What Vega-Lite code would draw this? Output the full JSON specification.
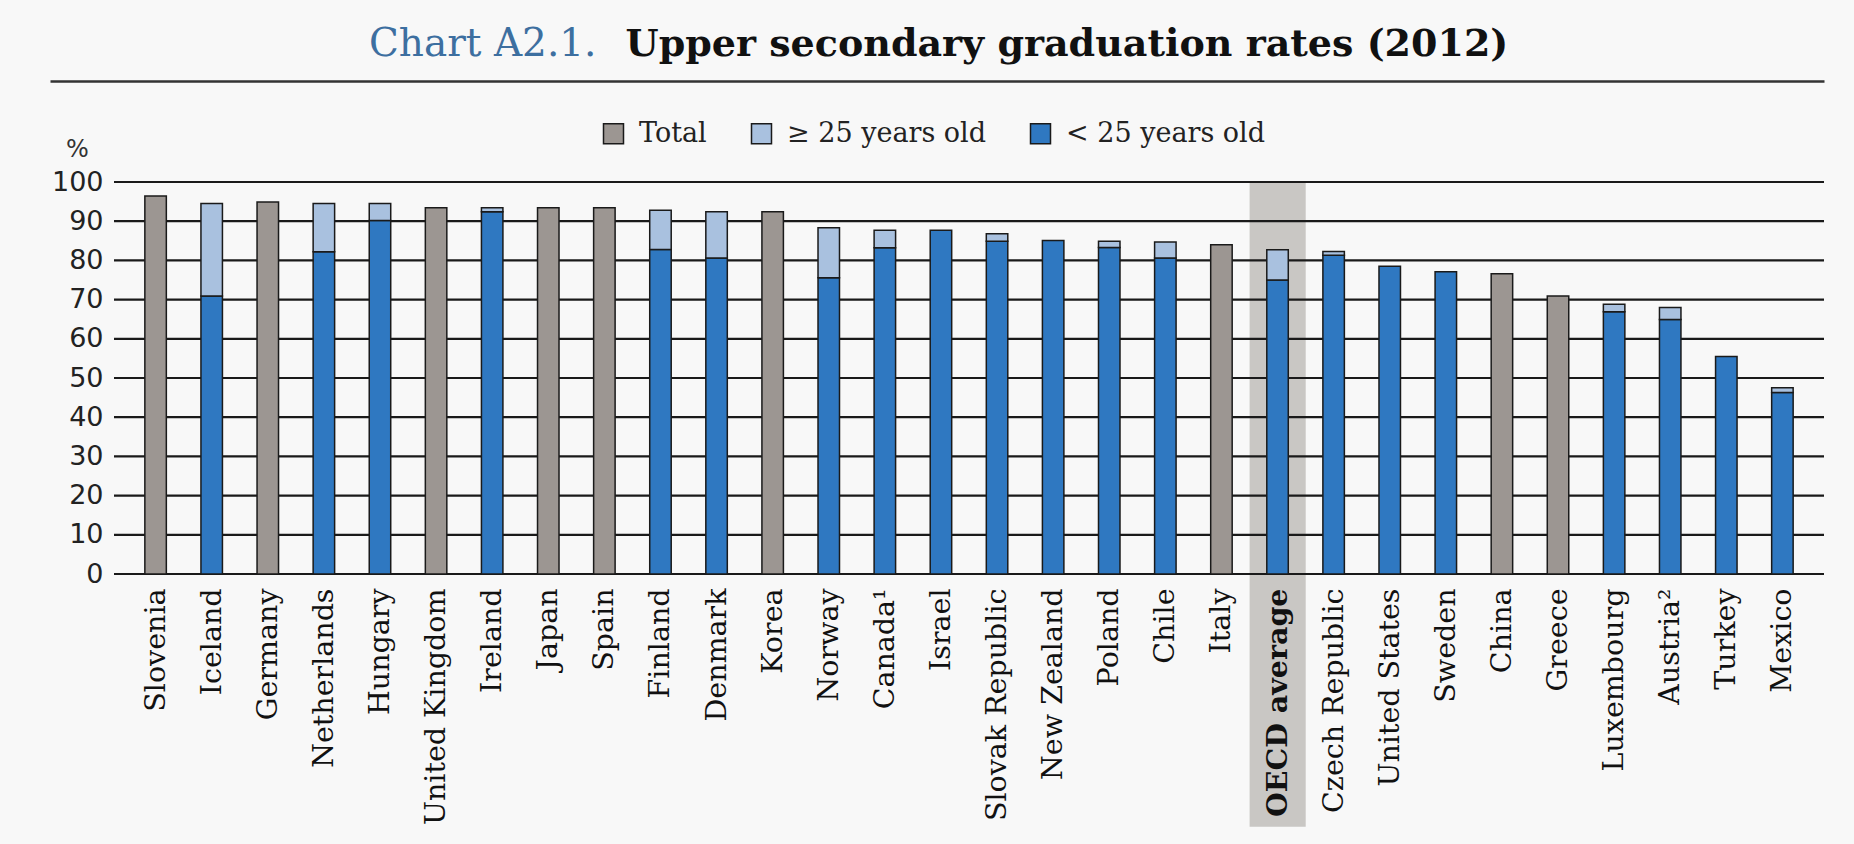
{
  "$schema": "https://vega.github.io/schema/vega-lite/v6.json",
  "width": 1710,
  "height": 392,
  "autosize": "none",
  "padding": {"left": 114, "top": 182, "right": 30, "bottom": 270},
  "background": "#f8f8f8",
  "title": {
    "text": "Chart A2.1.",
    "anchor": "start",
    "frame": "group",
    "dx": 255,
    "dy": 39,
    "offset": 0,
    "color": "#3d6fa0",
    "font": "DejaVu Serif",
    "fontSize": 39,
    "fontWeight": "normal"
  },
  "datasets": {
    "rates": [
      {"country": "Slovenia", "group": "Total", "value": 96.4},
      {"country": "Iceland", "group": "< 25 years old", "value": 70.9},
      {"country": "Iceland", "group": "≥ 25 years old", "value": 23.6},
      {"country": "Germany", "group": "Total", "value": 94.9},
      {"country": "Netherlands", "group": "< 25 years old", "value": 82.2},
      {"country": "Netherlands", "group": "≥ 25 years old", "value": 12.3},
      {"country": "Hungary", "group": "< 25 years old", "value": 90.2},
      {"country": "Hungary", "group": "≥ 25 years old", "value": 4.3},
      {"country": "United Kingdom", "group": "Total", "value": 93.4},
      {"country": "Ireland", "group": "< 25 years old", "value": 92.4},
      {"country": "Ireland", "group": "≥ 25 years old", "value": 1.0},
      {"country": "Japan", "group": "Total", "value": 93.4},
      {"country": "Spain", "group": "Total", "value": 93.4},
      {"country": "Finland", "group": "< 25 years old", "value": 82.8},
      {"country": "Finland", "group": "≥ 25 years old", "value": 10.0},
      {"country": "Denmark", "group": "< 25 years old", "value": 80.6},
      {"country": "Denmark", "group": "≥ 25 years old", "value": 11.8},
      {"country": "Korea", "group": "Total", "value": 92.4},
      {"country": "Norway", "group": "< 25 years old", "value": 75.6},
      {"country": "Norway", "group": "≥ 25 years old", "value": 12.7},
      {"country": "Canada¹", "group": "< 25 years old", "value": 83.2},
      {"country": "Canada¹", "group": "≥ 25 years old", "value": 4.5},
      {"country": "Israel", "group": "< 25 years old", "value": 87.7},
      {"country": "Slovak Republic", "group": "< 25 years old", "value": 84.9},
      {"country": "Slovak Republic", "group": "≥ 25 years old", "value": 1.9},
      {"country": "New Zealand", "group": "< 25 years old", "value": 85.1},
      {"country": "Poland", "group": "< 25 years old", "value": 83.3},
      {"country": "Poland", "group": "≥ 25 years old", "value": 1.6},
      {"country": "Chile", "group": "< 25 years old", "value": 80.6},
      {"country": "Chile", "group": "≥ 25 years old", "value": 4.1},
      {"country": "Italy", "group": "Total", "value": 84.0},
      {"country": "OECD average", "group": "< 25 years old", "value": 75.0},
      {"country": "OECD average", "group": "≥ 25 years old", "value": 7.7},
      {"country": "Czech Republic", "group": "< 25 years old", "value": 81.3},
      {"country": "Czech Republic", "group": "≥ 25 years old", "value": 1.0},
      {"country": "United States", "group": "< 25 years old", "value": 78.5},
      {"country": "Sweden", "group": "< 25 years old", "value": 77.1},
      {"country": "China", "group": "Total", "value": 76.6},
      {"country": "Greece", "group": "Total", "value": 70.9},
      {"country": "Luxembourg", "group": "< 25 years old", "value": 66.9},
      {"country": "Luxembourg", "group": "≥ 25 years old", "value": 1.9},
      {"country": "Austria²", "group": "< 25 years old", "value": 64.9},
      {"country": "Austria²", "group": "≥ 25 years old", "value": 3.1},
      {"country": "Turkey", "group": "< 25 years old", "value": 55.5},
      {"country": "Mexico", "group": "< 25 years old", "value": 46.3},
      {"country": "Mexico", "group": "≥ 25 years old", "value": 1.2}
    ],
    "highlight": [{"country": "OECD average"}],
    "gridlines": [
      {"v": 0}, {"v": 10}, {"v": 20}, {"v": 30}, {"v": 40}, {"v": 50},
      {"v": 60}, {"v": 70}, {"v": 80}, {"v": 90}, {"v": 100}
    ]
  },
  "layer": [
    {
      "data": {"name": "highlight"},
      "mark": {"type": "rect", "color": "#c9c7c4"},
      "encoding": {
        "x": {
          "field": "country",
          "type": "nominal",
          "scale": {
            "domain": ["Slovenia", "Iceland", "Germany", "Netherlands", "Hungary", "United Kingdom", "Ireland", "Japan", "Spain", "Finland", "Denmark", "Korea", "Norway", "Canada¹", "Israel", "Slovak Republic", "New Zealand", "Poland", "Chile", "Italy", "OECD average", "Czech Republic", "United States", "Sweden", "China", "Greece", "Luxembourg", "Austria²", "Turkey", "Mexico"],
            "range": [-64, 1710],
            "paddingInner": 0,
            "paddingOuter": 0.81,
            "align": 0.853
          },
          "axis": {
            "orient": "top",
            "offset": 101,
            "labels": false,
            "ticks": false,
            "grid": false,
            "domain": true,
            "domainColor": "#333333",
            "domainWidth": 2.5,
            "title": "Upper secondary graduation rates (2012)",
            "titleFont": "DejaVu Serif",
            "titleFontSize": 38,
            "titleFontWeight": "bold",
            "titleColor": "#111111",
            "titleAlign": "left",
            "titleAnchor": "start",
            "titleBaseline": "alphabetic",
            "titleX": 511,
            "titleY": -26
          }
        },
        "y": {"datum": 100, "scale": {"domain": [0, 100]}},
        "y2": {"datum": -64.5}
      }
    },
    {
      "data": {"name": "gridlines"},
      "mark": {"type": "rule", "color": "#1a1a1a", "strokeWidth": 2.2},
      "encoding": {
        "y": {"field": "v", "type": "quantitative", "scale": {"domain": [0, 100]}}
      }
    },
    {
      "data": {"name": "rates"},
      "mark": {"type": "bar", "stroke": "#1a1a1a", "strokeWidth": 1.5},
      "encoding": {
        "x": {
          "field": "country",
          "type": "nominal",
          "scale": {
            "domain": ["Slovenia", "Iceland", "Germany", "Netherlands", "Hungary", "United Kingdom", "Ireland", "Japan", "Spain", "Finland", "Denmark", "Korea", "Norway", "Canada¹", "Israel", "Slovak Republic", "New Zealand", "Poland", "Chile", "Italy", "OECD average", "Czech Republic", "United States", "Sweden", "China", "Greece", "Luxembourg", "Austria²", "Turkey", "Mexico"],
            "paddingInner": 0.617,
            "paddingOuter": 0.55
          },
          "axis": {
            "orient": "bottom",
            "title": null,
            "labelAngle": -90,
            "labelFont": "DejaVu Serif",
            "labelFontSize": 28.5,
            "labelColor": "#111111",
            "labelPadding": 14,
            "labelLimit": 400,
            "labelFontWeight": {"condition": {"test": "datum.value === 'OECD average'", "value": "bold"}, "value": "normal"},
            "ticks": false,
            "domain": false,
            "grid": false,
            "zindex": 1
          }
        },
        "y": {
          "field": "value",
          "type": "quantitative",
          "stack": "zero",
          "scale": {"domain": [0, 100]},
          "axis": {
            "values": [0, 10, 20, 30, 40, 50, 60, 70, 80, 90, 100],
            "tickCount": 11,
            "grid": false,
            "ticks": false,
            "domain": false,
            "labels": true,
            "labelOverlap": false,
            "labelFont": "DejaVu Sans",
            "labelFontSize": 27,
            "labelColor": "#222222",
            "labelPadding": 11,
            "title": "%",
            "titleAngle": 0,
            "titleX": -37,
            "titleY": -33,
            "titleAlign": "center",
            "titleBaseline": "middle",
            "titleFont": "DejaVu Sans",
            "titleFontSize": 24,
            "titleFontWeight": "normal",
            "titleColor": "#333333",
            "zindex": 1
          }
        },
        "color": {
          "field": "group",
          "type": "nominal",
          "scale": {
            "domain": ["Total", "≥ 25 years old", "< 25 years old"],
            "range": ["#9c9692", "#a9c1df", "#2f78c1"]
          },
          "legend": {
            "title": null,
            "orient": "none",
            "direction": "horizontal",
            "legendX": 486,
            "legendY": -62,
            "symbolType": "square",
            "symbolSize": 400,
            "symbolStrokeColor": "#1a1a1a",
            "symbolStrokeWidth": 1.5,
            "symbolOpacity": 1,
            "labelFont": "DejaVu Serif",
            "labelFontSize": 27,
            "labelColor": "#222222",
            "labelOffset": 12,
            "columnPadding": 41,
            "labelLimit": 400
          }
        },
        "order": {"field": "group", "sort": "ascending"}
      }
    }
  ],
  "resolve": {"scale": {"x": "independent"}, "axis": {"x": "independent"}},
  "config": {
    "view": {"stroke": null},
    "axisY": {"labelOverlap": false, "tickCount": 11},
    "axisQuantitative": {"labelOverlap": false, "tickCount": 11}
  }
}
